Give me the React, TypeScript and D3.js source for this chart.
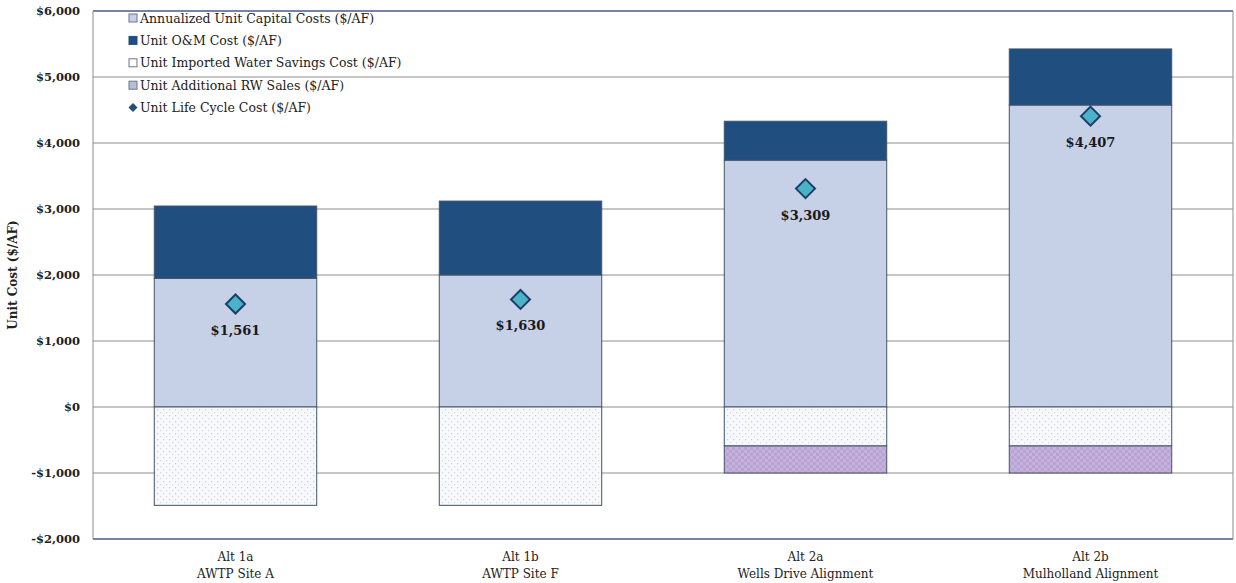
import React from "react";
import * as d3 from "d3";

const categories = ["Alt 1a|AWTP Site A", "Alt 1b|AWTP Site F", "Alt 2a|Wells Drive Alignment", "Alt 2b|Mulholland Alignment"];
const capitalCosts = [1950, 2000, 3740, 4575];
const omCosts = [1095, 1120, 590, 850];
const importedSavings = [-1490, -1490, -590, -590];
const rwSales = [0, 0, -410, -410];
const lifeCycle = [1561, 1630, 3309, 4407];
const yTicks = [-2000, -1000, 0, 1000, 2000, 3000, 4000, 5000, 6000];
const legendLabels = [
  "Annualized Unit Capital Costs ($/AF)",
  "Unit O&M Cost ($/AF)",
  "Unit Imported Water Savings Cost ($/AF)",
  "Unit Additional RW Sales  ($/AF)",
  "Unit Life Cycle Cost ($/AF)",
];

const W = 1236, H = 583;
const L = 93, R = 1233, T = 11, B = 539;
const FONT = "'DejaVu Serif', 'Liberation Serif', serif";

export default function App() {
  const x = d3.scaleBand<number>().domain(d3.range(categories.length)).range([L, R]).paddingInner(0.43).paddingOuter(0.215);
  const y = d3.scaleLinear().domain([-2000, 6000]).range([B, T]);
  const fmt = (v: number) => (v < 0 ? "-$" : "$") + d3.format(",")(Math.abs(v));
  const bw = x.bandwidth();
  const edge = "#44546a";
  return (
    <svg width={W} height={H} style={{ position: "absolute", left: 0, top: 0, background: "#fff" }}>
      <defs>
        <pattern id="dots" width="6" height="6" patternUnits="userSpaceOnUse">
          <rect width="6" height="6" fill="#f7f8fb" />
          <rect x="1" y="1" width="1.2" height="1.2" fill="#c9ccd6" />
          <rect x="4" y="4" width="1.2" height="1.2" fill="#d6d8e0" />
        </pattern>
        <pattern id="purp" width="6" height="6" patternUnits="userSpaceOnUse">
          <rect width="6" height="6" fill="#b8a3d2" />
          <rect x="0" y="0" width="3" height="3" fill="#c4b2dc" />
          <rect x="3" y="3" width="3" height="3" fill="#c4b2dc" />
        </pattern>
      </defs>
      {yTicks.map((t) => (
        <line key={t} x1={L} x2={R} y1={y(t)} y2={y(t)} stroke={t === 6000 || t === -2000 ? "#4b5a85" : "#8c8c8c"} strokeWidth={t === 6000 || t === -2000 ? 1.5 : 1} />
      ))}
      <line x1={L} x2={L} y1={T} y2={B} stroke="#8c8c8c" />
      <line x1={R} x2={R} y1={T} y2={B} stroke="#8c8c8c" />
      {yTicks.map((t) => (
        <text key={"l" + t} x={80} y={y(t) + 4} textAnchor="end" fontFamily={FONT} fontSize={11.5} fontWeight="bold" fill="#222">
          {fmt(t)}
        </text>
      ))}
      <text transform={`translate(17,275) rotate(-90)`} textAnchor="middle" fontFamily={FONT} fontSize={12} fontWeight="bold" fill="#222">
        Unit Cost ($/AF)
      </text>
      {categories.map((c, i) => {
        const x0 = x(i)!;
        const capTop = capitalCosts[i];
        const omTop = capTop + omCosts[i];
        const sav = importedSavings[i];
        const rw = sav + rwSales[i];
        return (
          <g key={c}>
            <rect x={x0} width={bw} y={y(capTop)} height={y(0) - y(capTop)} fill="#c6d0e7" stroke={edge} strokeWidth={1} />
            <rect x={x0} width={bw} y={y(omTop)} height={y(capTop) - y(omTop)} fill="#1f4e7f" stroke={edge} strokeWidth={1} />
            <rect x={x0} width={bw} y={y(0)} height={y(sav) - y(0)} fill="url(#dots)" stroke={edge} strokeWidth={1} />
            {rwSales[i] !== 0 && (
              <rect x={x0} width={bw} y={y(sav)} height={y(rw) - y(sav)} fill="url(#purp)" stroke={edge} strokeWidth={1} />
            )}
          </g>
        );
      })}
      {lifeCycle.map((v, i) => {
        const cx = x(i)! + bw / 2;
        const cy = y(v);
        return (
          <g key={"m" + i}>
            <path d={`M${cx},${cy - 9.5} L${cx + 9.5},${cy} L${cx},${cy + 9.5} L${cx - 9.5},${cy} Z`} fill="#4bb3c8" stroke="#1c3e66" strokeWidth={2} />
            <text x={cx} y={cy + 31} textAnchor="middle" fontFamily={FONT} fontSize={13} fontWeight="bold" fill="#1a1a1a">
              {fmt(v)}
            </text>
          </g>
        );
      })}
      {categories.map((c, i) => {
        const [a, b] = c.split("|");
        const cx = x(i)! + bw / 2;
        return (
          <text key={"c" + i} x={cx} textAnchor="middle" fontFamily={FONT} fontSize={12} fill="#222">
            <tspan x={cx} y={561}>{a}</tspan>
            <tspan x={cx} y={578}>{b}</tspan>
          </text>
        );
      })}
      {legendLabels.map((lab, i) => {
        const ly = 18 + i * 22.4;
        const lx = 129;
        let sw: React.ReactNode;
        if (i === 4) {
          sw = <path d={`M${lx + 4},${ly - 4.5} L${lx + 8.5},${ly} L${lx + 4},${ly + 4.5} L${lx - 0.5},${ly} Z`} fill="#1f4e7f" />;
        } else {
          const fills = ["#c6d0e7", "#1f4e7f", "#ffffff", "#b9bfd3"];
          sw = <rect x={lx} y={ly - 4} width={8} height={8} fill={fills[i]} stroke={i === 1 ? "#1f4e7f" : "#6b7590"} strokeWidth={1} />;
        }
        return (
          <g key={"lg" + i}>
            {sw}
            <text x={lx + 11} y={ly + 4.5} fontFamily={FONT} fontSize={12.5} fill="#222">
              {lab}
            </text>
          </g>
        );
      })}
    </svg>
  );
}
